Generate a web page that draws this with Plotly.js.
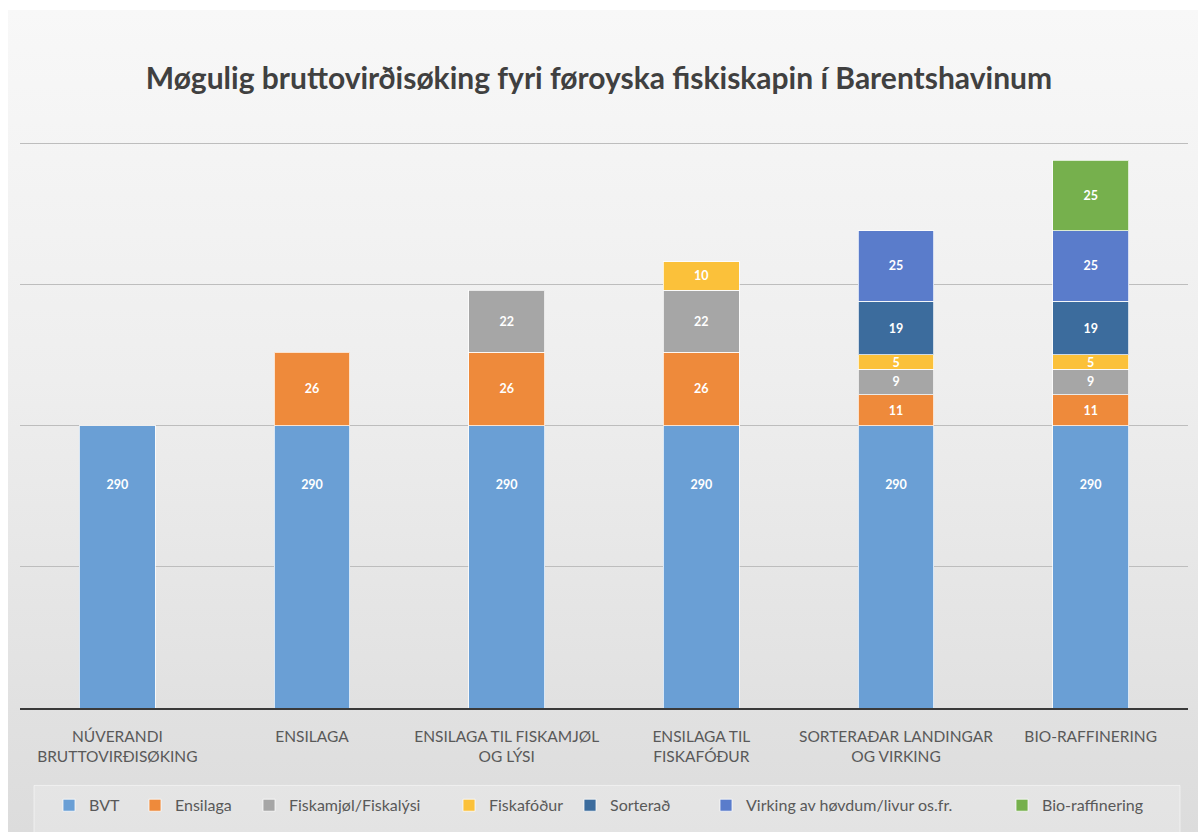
<!DOCTYPE html>
<html>
<head>
<meta charset="utf-8">
<script src="https://cdn.plot.ly/plotly-3.0.1.min.js"></script>
<style>
  html, body { margin: 0; padding: 0; background: #ffffff; }
  #wrap { position: absolute; left: 0; top: 0; width: 1198px; height: 832px; }
  #bg { position: absolute; left: 8px; top: 10px; width: 1190px; height: 822px;
        background: linear-gradient(to bottom, #f8f8f8 0%, #eeeeee 45%, #dcdcdc 100%); }
  #chart { position: absolute; left: 0; top: 0; width: 1198px; height: 832px; }
</style>
</head>
<body>
<div id="wrap">
  <div id="bg"></div>
  <div id="chart"></div>
</div>
<script>
const categories = [
  "NÚVERANDI<br>BRUTTOVIRÐISØKING",
  "ENSILAGA",
  "ENSILAGA TIL FISKAMJØL<br>OG LÝSI",
  "ENSILAGA TIL<br>FISKAFÓÐUR",
  "SORTERAÐAR LANDINGAR<br>OG VIRKING",
  "BIO-RAFFINERING"
];
const seriesNames = ["BVT", "Ensilaga", "Fiskamjøl/Fiskalýsi", "Fiskafóður", "Sorterað", "Virking av høvdum/livur os.fr.", "Bio-raffinering"];
const bvt        = [290, 290, 290, 290, 290, 290];
const ensilaga   = [null, 26, 26, 26, 11, 11];
const fiskamjol  = [null, null, 22, 22, 9, 9];
const fiskafodur = [null, null, null, 10, 5, 5];
const sorterad   = [null, null, null, null, 19, 19];
const virking    = [null, null, null, null, 25, 25];
const bioraff    = [null, null, null, null, null, 25];
const seriesValues = [bvt, ensilaga, fiskamjol, fiskafodur, sorterad, virking, bioraff];
const seriesColors = ["#6a9fd5", "#ee8a3b", "#a6a6a6", "#fbc13a", "#3c6c9d", "#5a7ccb", "#76b04d"];

// plot area in pixels (for converting legend positions to paper fractions)
const PL = 20, PR = 1188, PT = 142, PB = 712;
const legendLeftPx = [49, 135, 249, 449, 570, 706, 1002];
const legendKeys = ["legend", "legend2", "legend3", "legend4", "legend5", "legend6", "legend7"];

const traces = seriesValues.map((vals, i) => ({
  type: "bar",
  name: seriesNames[i],
  legend: legendKeys[i],
  x: categories,
  y: vals,
  marker: { color: seriesColors[i], line: { color: "rgba(255,255,255,0.75)", width: 1 } },
  texttemplate: i === 0 ? "\u00a0<br>\u00a0<br>\u00a0<br>%{y}" : "%{y}",
  textposition: "inside",
  insidetextanchor: i === 0 ? "end" : "middle",
  textangle: 0,
  constraintext: "none",
  textfont: { family: "Lato, sans-serif", size: 12.5, color: "#ffffff", weight: "bold" },
  hoverinfo: "x+y+name"
}));

const layout = {
  width: 1198,
  height: 832,
  paper_bgcolor: "rgba(0,0,0,0)",
  plot_bgcolor: "rgba(0,0,0,0)",
  barmode: "stack",
  bargap: 0.61,
  margin: { l: PL, r: 1198 - PR, t: PT, b: 832 - PB },
  title: {
    text: "<b>Møgulig bruttovirðisøking fyri føroyska fiskiskapin í Barentshavinum</b>",
    x: 0.5, xanchor: "center",
    y: 1 - 78 / 832, yanchor: "middle",
    font: { family: "Lato, sans-serif", size: 30, color: "#404040" }
  },
  xaxis: {
    type: "category",
    showline: true, linecolor: "#3a3a3a", linewidth: 2,
    ticks: "",
    ticklabelstandoff: 13,
    tickfont: { family: "Lato, sans-serif", size: 15.5, color: "#595959" },
    showgrid: false
  },
  yaxis: {
    range: [190, 390.4],
    tick0: 190, dtick: 50,
    showticklabels: false,
    showgrid: true, gridcolor: "#bdbdbd", gridwidth: 1,
    zeroline: false, showline: false, ticks: ""
  },
  showlegend: true,
  shapes: [{
    type: "rect", xref: "paper", yref: "paper", layer: "below",
    x0: (34 - PL) / (PR - PL), x1: (1180 - PL) / (PR - PL),
    y0: (PB - 845) / (PB - PT), y1: (PB - 790) / (PB - PT),
    fillcolor: "rgba(255,255,255,0.22)",
    line: { color: "rgba(255,255,255,0.5)", width: 1 }
  }]
};

legendKeys.forEach((k, i) => {
  layout[k] = {
    orientation: "h",
    x: (legendLeftPx[i] - PL) / (PR - PL), xanchor: "left",
    y: (PB - 810) / (PB - PT), yanchor: "middle",
    bgcolor: "rgba(0,0,0,0)",
    font: { family: "Lato, sans-serif", size: 16, color: "#595959" },
    itemclick: false, itemdoubleclick: false
  };
});

Plotly.newPlot("chart", traces, layout, { displayModeBar: false });
</script>
</body>
</html>
